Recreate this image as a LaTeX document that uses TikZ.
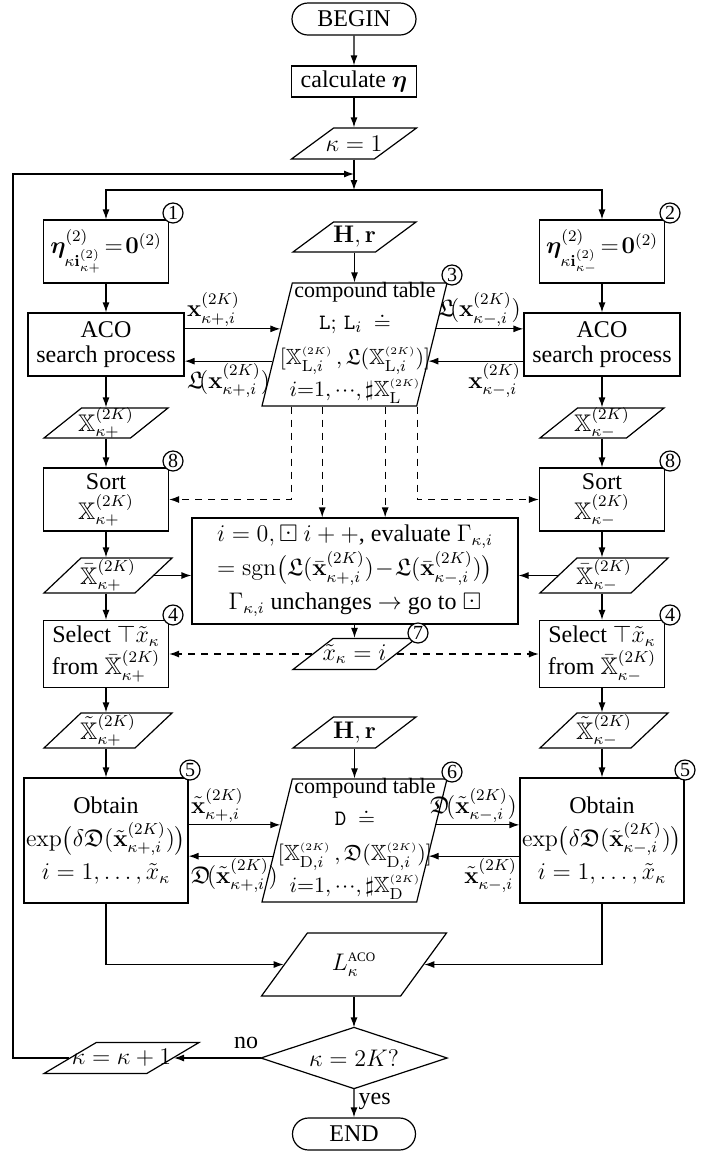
\documentclass[tikz,border=0pt]{standalone}
\usepackage{amsmath,amssymb,bm}
\usepackage[no-math]{fontspec}
\setmainfont{Liberation Serif}
\usetikzlibrary{shapes.geometric,shapes.misc,arrows.meta,calc}
\begin{document}
\begin{tikzpicture}[x=0.5pt,y=-0.5pt,line width=0.6pt,
  >={Latex[length=5pt,width=3.5pt]},
  every node/.style={font=\fontsize{12}{15}\selectfont,inner sep=0pt},
  term/.style={draw,rounded rectangle,minimum width=62pt,minimum height=16pt},
  proc/.style={draw,rectangle,align=center,inner sep=1pt},
  para/.style={draw,trapezium,trapezium stretches=true,inner sep=0.5pt},
  num/.style={draw,circle,fill=white,minimum size=10pt,inner sep=0pt,font=\fontsize{10}{10}\selectfont},
  lbl/.style={inner sep=1pt},
  dsh/.style={dash pattern=on 3.5pt off 3pt},
  tabtext/.style={align=center,font=\fontsize{11}{16}\selectfont}]
\useasboundingbox (0,0) rectangle (718,1153);

% ---------- top ----------
\node[term] (begin) at (354,19) {BEGIN};
\node[proc,minimum width=62.5pt,minimum height=15.5pt] (calc) at (354,81.5) {calculate $\boldsymbol{\eta}$};
\node[para,trapezium left angle=44,trapezium right angle=136,minimum width=62.5pt,minimum height=15.5pt] (k1) at (354,143.5) {};
\node (k1t) at (k1) {$\kappa=1$};
\coordinate (loop) at (354,174);
\coordinate (split) at (354,190);

% ---------- left column ----------
\node[proc,minimum width=62.5pt,minimum height=31.5pt] (b1) at (106,251.5) {$\boldsymbol{\eta}^{(2)}_{\kappa\mathbf{i}^{(2)}_{\kappa+}}\!=\!\mathbf{0}^{(2)}$};
\node[proc,minimum width=78pt,minimum height=31.5pt,font=\fontsize{12}{12.5}\selectfont] (aco1) at (106,344.5) {ACO\\search process};
\node[para,trapezium left angle=52.5,trapezium right angle=127.5,minimum width=62pt,minimum height=15pt] (X1) at (106,423) {};
\node (X1t) at (X1) {$\mathbb{X}^{(2K)}_{\kappa+}$};
\node[proc,minimum width=62.5pt,minimum height=31.5pt] (sort1) at (106,499.5) {Sort\\$\mathbb{X}^{(2K)}_{\kappa+}$};
\node[para,trapezium left angle=55.6,trapezium right angle=124.4,minimum width=64pt,minimum height=17.5pt] (Xb1) at (108,575.5) {};
\node (Xb1t) at (Xb1) {$\bar{\mathbb{X}}^{(2K)}_{\kappa+}$};
\node[proc,minimum width=62.5pt,minimum height=33.5pt,font=\fontsize{12}{16}\selectfont] (sel1) at (106,654) {Select $\top\tilde{x}_\kappa$\\from $\bar{\mathbb{X}}^{(2K)}_{\kappa+}$};
\node[para,trapezium left angle=55.6,trapezium right angle=124.4,minimum width=64pt,minimum height=17.5pt] (Xt1) at (108,730.5) {};
\node (Xt1t) at (Xt1) {$\tilde{\mathbb{X}}^{(2K)}_{\kappa+}$};
\node[proc,minimum width=78pt,minimum height=62.5pt,font=\fontsize{12}{16.5}\selectfont] (obt1) at (106,840.5) {Obtain\\$\exp\bigl(\delta\mathfrak{D}(\tilde{\mathbf{x}}^{(2K)}_{\kappa+,i})\bigr)$\\$i=1,\ldots,\tilde{x}_\kappa$};

% ---------- right column ----------
\node[proc,minimum width=62.5pt,minimum height=31.5pt] (b2) at (602,251.5) {$\boldsymbol{\eta}^{(2)}_{\kappa\mathbf{i}^{(2)}_{\kappa-}}\!=\!\mathbf{0}^{(2)}$};
\node[proc,minimum width=78pt,minimum height=31.5pt,font=\fontsize{12}{12.5}\selectfont] (aco2) at (602,344.5) {ACO\\search process};
\node[para,trapezium left angle=52.5,trapezium right angle=127.5,minimum width=62pt,minimum height=15pt] (X2) at (602,423) {};
\node (X2t) at (X2) {$\mathbb{X}^{(2K)}_{\kappa-}$};
\node[proc,minimum width=62.5pt,minimum height=31.5pt] (sort2) at (602,499.5) {Sort\\$\mathbb{X}^{(2K)}_{\kappa-}$};
\node[para,trapezium left angle=55.6,trapezium right angle=124.4,minimum width=64pt,minimum height=17.5pt] (Xb2) at (604,575.5) {};
\node (Xb2t) at (Xb2) {$\bar{\mathbb{X}}^{(2K)}_{\kappa-}$};
\node[proc,minimum width=62.5pt,minimum height=33.5pt,font=\fontsize{12}{16}\selectfont] (sel2) at (602,654) {Select $\top\tilde{x}_\kappa$\\from $\bar{\mathbb{X}}^{(2K)}_{\kappa-}$};
\node[para,trapezium left angle=55.6,trapezium right angle=124.4,minimum width=64pt,minimum height=17.5pt] (Xt2) at (604,730.5) {};
\node (Xt2t) at (Xt2) {$\tilde{\mathbb{X}}^{(2K)}_{\kappa-}$};
\node[proc,minimum width=78pt,minimum height=62.5pt,font=\fontsize{12}{16.5}\selectfont] (obt2) at (602,840.5) {Obtain\\$\exp\bigl(\delta\mathfrak{D}(\tilde{\mathbf{x}}^{(2K)}_{\kappa-,i})\bigr)$\\$i=1,\ldots,\tilde{x}_\kappa$};

% ---------- centre ----------
\node[para,trapezium left angle=46,trapezium right angle=134,minimum width=61.5pt,minimum height=15pt] (hr1) at (354.5,237) {};
\node (hr1t) at (hr1) {$\mathbf{H},\mathbf{r}$};
\node[para,trapezium left angle=76.3,trapezium right angle=103.7,minimum width=92.5pt,minimum height=61.5pt] (tab1) at (354.5,344.5) {};
\node[tabtext] (tab1t) at (355,343) {\hspace*{10pt}compound table\\$\mathtt{L};\,\mathtt{L}_i\ \doteq$\\[1.5pt]$[\mathbb{X}^{\scriptscriptstyle(2K)}_{\mathrm{L},i}\,,\mathfrak{L}(\mathbb{X}^{\scriptscriptstyle(2K)}_{\mathrm{L},i})]$\\$i{=}1,\cdot\!\cdot\!\cdot,\sharp\mathbb{X}^{\scriptscriptstyle(2K)}_{\mathrm{L}}$};
\node[proc,minimum width=163pt,minimum height=53pt,font=\fontsize{12}{17}\selectfont] (eval) at (355,571) {$i=0,\boxdot\ i++$, evaluate $\Gamma_{\kappa,i}$\\$=\mathrm{sgn}\bigl(\mathfrak{L}(\bar{\mathbf{x}}^{(2K)}_{\kappa+,i})\!-\!\mathfrak{L}(\bar{\mathbf{x}}^{(2K)}_{\kappa-,i})\bigr)$\\$\Gamma_{\kappa,i}$ unchanges $\rightarrow$ go to $\boxdot$};
\node[para,trapezium left angle=47,trapezium right angle=133,minimum width=61.5pt,minimum height=15.5pt] (xk) at (354.5,654) {};
\node (xkt) at (xk) {$\tilde{x}_\kappa=i$};
\node[para,trapezium left angle=46,trapezium right angle=134,minimum width=61.5pt,minimum height=15.5pt] (hr2) at (354.5,732.5) {};
\node (hr2t) at (hr2) {$\mathbf{H},\mathbf{r}$};
\node[para,trapezium left angle=76.3,trapezium right angle=103.7,minimum width=92.5pt,minimum height=61.5pt] (tab2) at (354.5,840.5) {};
\node[tabtext] (tab2t) at (355,839) {\hspace*{10pt}compound table\\$\mathtt{D}\ \doteq$\\[1.5pt]$[\mathbb{X}^{\scriptscriptstyle(2K)}_{\mathrm{D},i}\,,\mathfrak{D}(\mathbb{X}^{\scriptscriptstyle(2K)}_{\mathrm{D},i})]$\\$i{=}1,\cdot\!\cdot\!\cdot,\sharp\mathbb{X}^{\scriptscriptstyle(2K)}_{\mathrm{D}}$};

% ---------- bottom ----------
\node[para,trapezium left angle=63.8,trapezium right angle=116.2,minimum width=92.5pt,minimum height=31.5pt] (Lk) at (354,964.5) {};
\node (Lkt) at (Lk) {$L^{\text{\fontsize{6.5}{7}\selectfont ACO}}_{\kappa}$};
\node[minimum width=92.5pt,minimum height=30pt,inner sep=0pt] (dia) at (354,1058) {$\kappa=2K?$};
\draw (dia.north) -- (dia.east) -- (dia.south) -- (dia.west) -- cycle;
\node[para,trapezium left angle=44,trapezium right angle=136,minimum width=77.5pt,minimum height=15.5pt] (kp1) at (121.5,1058) {};
\node (kp1t) at (kp1) {$\kappa=\kappa+1$};
\node[term,minimum width=61.5pt] (end) at (354,1134) {END};
\coordinate (cB) at (13,1058);
\coordinate (cT) at (13,174);

% ---------- connectors ----------
\draw[->] (begin) -- (calc);
\draw[->] (calc) -- (k1);
\draw[->] (k1) -- (split);
\draw[->] (kp1) -- (cB) -- (cT) -- (loop);
\draw[->] (split) -| (b1);
\draw[->] (split) -| (b2);
\draw[->] (b1) -- (aco1);
\draw[->] (b2) -- (aco2);
\draw[->] (aco1.south) -- (aco1.south |- X1.north);
\draw[->] (aco2.south) -- (aco2.south |- X2.north);
\draw[->] (sort1.north |- X1.south) -- (sort1.north);
\draw[->] (sort2.north |- X2.south) -- (sort2.north);
\draw[->] (sort1.south) -- (sort1.south |- Xb1.north);
\draw[->] (sort2.south) -- (sort2.south |- Xb2.north);
\draw[->] (sel1.north |- Xb1.south) -- (sel1.north);
\draw[->] (sel2.north |- Xb2.south) -- (sel2.north);
\draw[->] (sel1.south) -- (sel1.south |- Xt1.north);
\draw[->] (sel2.south) -- (sel2.south |- Xt2.north);
\draw[->] (obt1.north |- Xt1.south) -- (obt1.north);
\draw[->] (obt2.north |- Xt2.south) -- (obt2.north);
\draw[->] (Xb1) -- (Xb1 -| eval.west);
\draw[->] (Xb2) -- (Xb2 -| eval.east);
\draw[->] (hr1) -- (tab1);
\draw[->] (hr2) -- (tab2);
\draw[->] (eval.south -| xk) -- (xk);

% table L arrows
\coordinate (ta) at ($(tab1.top left corner)!0.374!(tab1.bottom left corner)$);
\coordinate (tb) at ($(tab1.top left corner)!0.634!(tab1.bottom left corner)$);
\coordinate (tc) at ($(tab1.top right corner)!0.374!(tab1.bottom right corner)$);
\coordinate (td) at ($(tab1.top right corner)!0.634!(tab1.bottom right corner)$);
\draw[->] (aco1.east |- ta) -- (ta);
\draw[<-] (aco1.east |- tb) -- (tb);
\draw[->] (tc) -- (tc -| aco2.west);
\draw[<-] (td) -- (td -| aco2.west);
\node[lbl,anchor=south west] (la) at (aco1.east |- ta) {$\mathbf{x}^{(2K)}_{\kappa+,i}$};
\node[lbl,anchor=north west] (lb) at (aco1.east |- tb) {$\mathfrak{L}\!(\mathbf{x}^{(2K)}_{\kappa+,i})$};
\node[lbl,anchor=south east] (lc) at (tc -| aco2.west) {$\mathfrak{L}\!(\mathbf{x}^{(2K)}_{\kappa-,i})$};
\node[lbl,anchor=north east] (ld) at (td -| aco2.west) {$\mathbf{x}^{(2K)}_{\kappa-,i}$};

% table D arrows
\coordinate (da) at ($(tab2.top left corner)!0.374!(tab2.bottom left corner)$);
\coordinate (db) at ($(tab2.top left corner)!0.626!(tab2.bottom left corner)$);
\coordinate (dc) at ($(tab2.top right corner)!0.374!(tab2.bottom right corner)$);
\coordinate (dd) at ($(tab2.top right corner)!0.626!(tab2.bottom right corner)$);
\draw[->] (obt1.east |- da) -- (da);
\draw[<-] (obt1.east |- db) -- (db);
\draw[->] (dc) -- (dc -| obt2.west);
\draw[<-] (dd) -- (dd -| obt2.west);
\node[lbl,anchor=south west] (ma) at (obt1.east |- da) {$\tilde{\mathbf{x}}^{(2K)}_{\kappa+,i}$};
\node[lbl,anchor=north west] (mb) at (obt1.east |- db) {$\mathfrak{D}\!(\tilde{\mathbf{x}}^{(2K)}_{\kappa+,i})$};
\node[lbl,anchor=south east] (mc) at (dc -| obt2.west) {$\mathfrak{D}\!(\tilde{\mathbf{x}}^{(2K)}_{\kappa-,i})$};
\node[lbl,anchor=north east] (md) at (dd -| obt2.west) {$\tilde{\mathbf{x}}^{(2K)}_{\kappa-,i}$};

% dashed
\coordinate (d1) at ($(tab1.bottom left corner)+(15pt,0)$);
\coordinate (d2) at ($(tab1.bottom left corner)+(30.5pt,0)$);
\coordinate (d3) at ($(tab1.bottom right corner)+(-16pt,0)$);
\coordinate (d4) at (tab1.bottom right corner);
\draw[dsh,->] (d1) |- (sort1.east);
\draw[dsh,->] (d2) -- (d2 |- eval.north);
\draw[dsh,->] (d3) -- (d3 |- eval.north);
\draw[dsh,->] (d4) |- (sort2.west);
\draw[dsh,->] (xk) -- (sel1);
\draw[dsh,->] (xk) -- (sel2);

% bottom
\draw[->] (obt1) |- (Lk);
\draw[->] (obt2) |- (Lk);
\draw[->] (Lk) -- (dia.north);
\draw[->] (dia.west) -- (kp1);
\draw[->] (dia.south) -- (end);
\node (no) at (246,1043) {no};
\node[anchor=west] (yes) at (358,1101) {yes};

% numbers
\node[num] (n1) at (173,213) {1};
\node[num] (n2) at (670,213) {2};
\node[num] (n3) at (452,275) {3};
\node[num] (n8a) at (173,461) {8};
\node[num] (n8b) at (670,461) {8};
\node[num] (n4a) at (173,615) {4};
\node[num] (n4b) at (670,615) {4};
\node[num] (n7) at (418,633) {7};
\node[num] (n5a) at (190,770) {5};
\node[num] (n6) at (452,772) {6};
\node[num] (n5b) at (685,770) {5};
\end{tikzpicture}
\end{document}
